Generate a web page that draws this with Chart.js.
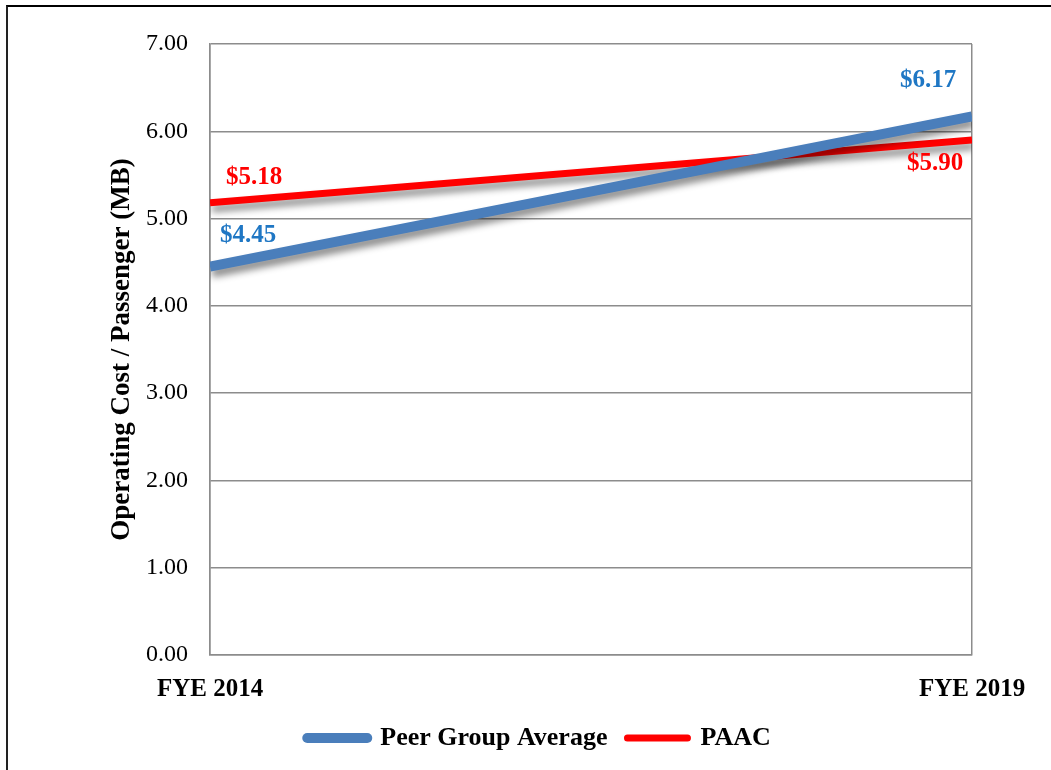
<!DOCTYPE html>
<html>
<head>
<meta charset="utf-8">
<script src="https://cdn.jsdelivr.net/npm/chart.js@4.4.1/dist/chart.umd.min.js"></script>
<style>
  html, body { margin: 0; padding: 0; background: #fff; }
  #wrap { position: relative; width: 1051px; height: 770px; overflow: hidden; }
  #frame { position: absolute; left: 6px; top: 5px; width: 1100px; height: 800px;
           border-top: 2px solid #000; border-left: 2px solid #222; pointer-events: none; }
  canvas { position: absolute; left: 0; top: 0; }
</style>
</head>
<body>
<div id="wrap">
  <canvas id="costChart" width="1051" height="770"></canvas>
  <div id="frame"></div>
</div>
<script>
const years = ['FYE 2014', 'FYE 2019'];
const peerAvg = [4.45, 6.17];
const paac = [5.18, 5.90];
const seriesNames = ['Peer Group Average', 'PAAC'];

const serif = "'Liberation Serif', 'DejaVu Serif', serif";

// label offsets from the point (styling, not data)
const labelOffsets = [
    [{ dx: 38, dy: -31 }, { dx: -44, dy: -36 }],
    [{ dx: 44, dy: -25 }, { dx: -37, dy: 24 }]
];
const labelColors = ['#1f77c4', '#ff0000'];

const shadowPlugin = {
    id: 'lineShadow',
    beforeDatasetDraw(chart) {
        const ctx = chart.ctx;
        ctx.save();
        ctx.shadowColor = 'rgba(0, 0, 0, 0.45)';
        ctx.shadowBlur = 7;
        ctx.shadowOffsetX = 2;
        ctx.shadowOffsetY = 6;
    },
    afterDatasetDraw(chart) {
        chart.ctx.restore();
    }
};

const valueLabels = {
    id: 'valueLabels',
    afterDatasetsDraw(chart) {
        const ctx = chart.ctx;
        ctx.save();
        ctx.font = 'bold 25px ' + serif;
        ctx.textAlign = 'center';
        ctx.textBaseline = 'middle';
        chart.data.datasets.forEach((ds, i) => {
            const meta = chart.getDatasetMeta(i);
            meta.data.forEach((pt, j) => {
                const off = labelOffsets[i][j];
                ctx.fillStyle = labelColors[i];
                ctx.fillText('$' + ds.data[j].toFixed(2), pt.x + off.dx, pt.y + off.dy);
            });
        });
        ctx.restore();
    }
};

const ctx = document.getElementById('costChart').getContext('2d');
const costChart = new Chart(ctx, {
    type: 'line',
    data: {
        labels: years,
        datasets: [{
            label: seriesNames[0],
            data: peerAvg,
            borderColor: '#4a7ebb',
            backgroundColor: '#4a7ebb',
            borderWidth: 10,
            borderCapStyle: 'butt',
            pointRadius: 0,
            tension: 0,
            clip: 0
        }, {
            label: seriesNames[1],
            data: paac,
            borderColor: '#ff0000',
            backgroundColor: '#ff0000',
            borderWidth: 7,
            borderCapStyle: 'butt',
            pointRadius: 0,
            tension: 0,
            clip: 0
        }]
    },
    options: {
        responsive: false,
        animation: false,
        layout: {
            padding: { left: 106, top: 44, right: 79, bottom: 9 }
        },
        scales: {
            x: {
                offset: false,
                grid: { color: '#8c8c8c', lineWidth: 1.5, drawTicks: false },
                border: { color: '#8c8c8c', width: 1.5 },
                ticks: {
                    color: '#000',
                    padding: 20,
                    maxRotation: 0,
                    font: { family: serif, size: 25, weight: 'bold' }
                },
                afterFit(scale) { scale.height = 50; }
            },
            y: {
                min: 0,
                max: 7,
                grid: { color: '#8c8c8c', lineWidth: 1.5, drawTicks: false },
                border: { color: '#8c8c8c', width: 1.5 },
                ticks: {
                    stepSize: 1,
                    color: '#000',
                    padding: 22,
                    font: { family: serif, size: 24 },
                    callback: v => v.toFixed(2)
                },
                title: {
                    display: true,
                    text: 'Operating Cost / Passenger (MB)',
                    color: '#000',
                    padding: 0,
                    font: { family: serif, size: 27, weight: 'bold' }
                },
                afterFit(scale) { scale.width = 104; }
            }
        },
        plugins: {
            legend: {
                position: 'bottom',
                labels: {
                    color: '#000',
                    usePointStyle: true,
                    pointStyle: 'line',
                    pointStyleWidth: 60,
                    padding: 20,
                    font: { family: serif, size: 26, weight: 'bold' },
                    generateLabels(chart) {
                        const items = Chart.defaults.plugins.legend.labels.generateLabels(chart);
                        items.forEach(it => { it.lineCap = 'round'; });
                        return items;
                    }
                }
            },
            tooltip: { enabled: false }
        }
    },
    plugins: [shadowPlugin, valueLabels]
});
</script>
</body>
</html>
